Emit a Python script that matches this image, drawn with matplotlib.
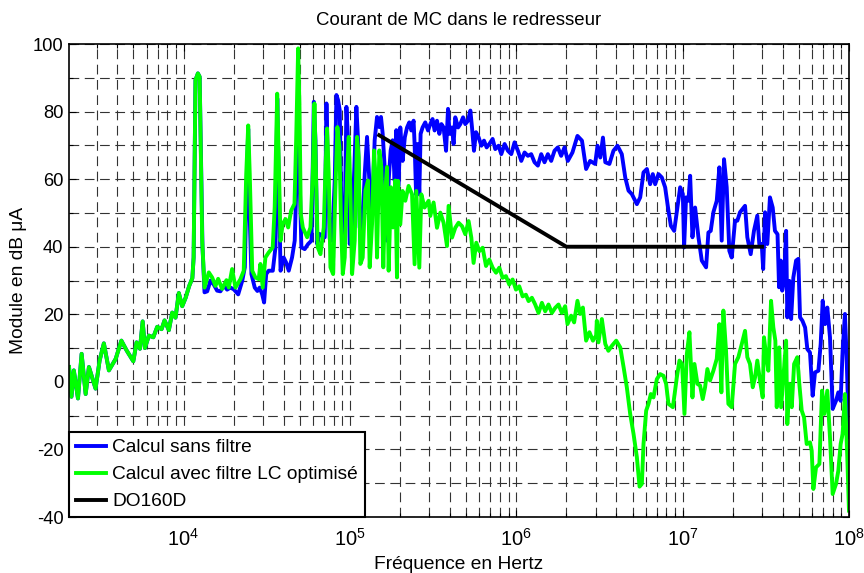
import numpy as np
import matplotlib
matplotlib.use("Agg")
import matplotlib.pyplot as plt
from matplotlib.ticker import FixedLocator, NullFormatter, MultipleLocator

plt.rcParams['font.family'] = ['Liberation Sans', 'DejaVu Sans']
plt.rcParams['mathtext.fontset'] = 'custom'
plt.rcParams['mathtext.rm'] = 'Liberation Sans'
plt.rcParams['mathtext.it'] = 'Liberation Sans:italic'
plt.rcParams['lines.scale_dashes'] = False
plt.rcParams['axes.unicode_minus'] = False

# Low-frequency part, identical for both computations (Hz, dB µA)
freq_common = [2050, 2120, 2190, 2320, 2440, 2580, 2700, 2960, 3130, 3320,
               3560, 3910, 4230, 4550, 4990, 5220, 5470, 5680, 5860, 6190,
               6580, 6950, 7380, 7690, 8160, 8550, 8950, 9370, 9820, 10300,
               10800, 11300, 11500, 11800, 12200, 12500]
level_common = [4.4, -4.4, 3.4, -4.9, 8.3, -3.6, 4.4, -2.0, 6.3, 11.4,
                3.4, 6.8, 12.2, 9.3, 6.1, 11.7, 9.8, 17.9, 10.0, 13.7,
                13.2, 16.3, 15.6, 18.2, 15.3, 20.5, 19.0, 26.3, 22.4, 24.9,
                28.3, 30.7, 36.8, 89.3, 91.3, 90.3]

# Computation without filter
freq_sans = [1.30e4, 1.337e4, 1.388e4, 1.452e4, 1.520e4, 1.592e4, 1.667e4, 1.746e4, 1.828e4, 1.914e4,
             2.004e4, 2.131e4, 2.253e4, 2.336e4, 2.382e4, 2.448e4, 2.49e4, 2.559e4, 2.68e4, 2.78e4,
             2.87e4, 2.97e4, 3.05e4, 3.14e4, 3.25e4, 3.44e4, 3.57e4, 3.66e4, 3.73e4, 3.83e4,
             4.00e4, 4.14e4, 4.29e4, 4.49e4, 4.66e4, 4.79e4, 4.89e4, 4.98e4, 5.11e4, 5.35e4,
             5.61e4, 5.88e4, 6.07e4, 6.21e4, 6.36e4, 6.56e4, 6.81e4, 7.06e4, 7.23e4, 7.40e4,
             7.57e4, 7.82e4, 8.11e4, 8.30e4, 8.49e4, 8.69e4, 8.85e4, 9.06e4, 9.31e4, 9.53e4,
             9.75e4, 9.98e4, 1.031e5, 1.064e5, 1.094e5, 1.120e5, 1.146e5, 1.184e5, 1.228e5, 1.268e5,
             1.309e5, 1.359e5, 1.409e5, 1.456e5, 1.503e5, 1.538e5, 1.574e5, 1.618e5, 1.671e5, 1.710e5,
             1.758e5, 1.807e5, 1.858e5, 1.901e5, 1.963e5, 2.009e5, 2.074e5, 2.139e5, 2.206e5, 2.275e5,
             2.339e5, 2.415e5, 2.449e5, 2.50e5, 2.553e5, 2.614e5, 2.661e5, 2.735e5, 2.838e5, 2.95e5,
             3.043e5, 3.14e5, 3.23e5, 3.339e5, 3.45e5, 3.55e5, 3.658e5, 3.785e5, 3.89e5, 3.975e5,
             4.11e5, 4.20e5, 4.30e5, 4.47e5, 4.61e5, 4.79e5, 4.94e5, 5.13e5, 5.30e5, 5.42e5,
             5.57e5, 5.73e5, 5.94e5, 6.17e5, 6.40e5, 6.64e5, 6.89e5, 7.21e5, 7.48e5, 7.83e5,
             8.13e5, 8.51e5, 8.91e5, 9.33e5, 9.77e5, 1.023e6, 1.072e6, 1.122e6, 1.175e6, 1.230e6,
             1.288e6, 1.349e6, 1.413e6, 1.479e6, 1.549e6, 1.622e6, 1.698e6, 1.778e6, 1.862e6, 1.950e6,
             2.042e6, 2.177e6, 2.333e6, 2.483e6, 2.630e6, 2.780e6, 2.98e6, 3.08e6, 3.20e6, 3.32e6,
             3.43e6, 3.63e6, 3.84e6, 4.06e6, 4.31e6, 4.52e6, 4.73e6, 4.95e6, 5.31e6, 5.56e6,
             5.82e6, 6.10e6, 6.38e6, 6.62e6, 6.84e6, 7.16e6, 7.50e6, 7.85e6, 8.22e6, 8.50e6,
             8.90e6, 9.31e6, 9.67e6, 1.003e7, 1.021e7, 1.049e7, 1.084e7, 1.110e7, 1.146e7, 1.189e7,
             1.245e7, 1.304e7, 1.384e7, 1.429e7, 1.476e7, 1.531e7, 1.604e7, 1.663e7, 1.718e7, 1.774e7,
             1.841e7, 1.909e7, 1.973e7, 2.066e7, 2.133e7, 2.213e7, 2.373e7, 2.449e7, 2.566e7, 2.685e7,
             2.812e7, 2.89e7, 2.99e7, 3.05e7, 3.13e7, 3.23e7, 3.35e7, 3.48e7, 3.59e7, 3.72e7,
             3.80e7, 3.89e7, 3.97e7, 4.07e7, 4.19e7, 4.26e7, 4.38e7, 4.49e7, 4.63e7, 4.81e7,
             4.96e7, 5.08e7, 5.25e7, 5.45e7, 5.62e7, 5.83e7, 6.05e7, 6.25e7, 6.55e7, 6.76e7,
             6.95e7, 7.18e7, 7.41e7, 7.69e7, 7.98e7, 8.36e7, 8.63e7, 8.91e7, 9.16e7, 9.46e7,
             9.68e7, 1.0e8]
level_sans = [40.0, 26.5, 26.8, 30.0, 28.8, 27.0, 26.8, 28.5, 27.3, 27.9,
              27.4, 25.9, 29.9, 33.9, 53.7, 74.9, 51.7, 31.9, 27.9, 26.9,
              27.9, 25.9, 23.5, 31.9, 32.9, 32.9, 39.8, 83.9, 61.6, 32.9,
              36.8, 35.3, 32.9, 36.8, 41.8, 61.6, 86.3, 61.6, 39.8, 39.3,
              40.8, 41.8, 82.9, 71.5, 40.8, 43.8, 43.3, 42.8, 82.4, 59.6,
              42.3, 41.8, 59.6, 84.9, 83.4, 80.4, 56.6, 39.8, 46.7, 81.4,
              71.5, 40.8, 45.7, 63.6, 81.4, 71.5, 45.7, 43.8, 61.6, 72.5,
              59.6, 49.7, 71.5, 78.4, 75.4, 78.4, 73.5, 63.6, 41.8, 59.6,
              68.5, 71.5, 59.6, 74.5, 58.0, 75.3, 65.4, 72.4, 75.3, 76.8,
              74.4, 77.3, 70.4, 55.5, 70.4, 55.5, 73.4, 75.3, 76.8, 74.4,
              76.3, 77.8, 74.4, 77.3, 73.4, 76.3, 75.3, 68.4, 80.8, 73.4,
              75.3, 70.4, 78.3, 75.3, 76.3, 78.3, 76.3, 77.3, 80.3, 75.3,
              68.4, 73.9, 72.4, 69.9, 71.4, 69.4, 70.4, 71.9, 68.9, 69.9,
              67.4, 70.4, 68.4, 67.4, 70.9, 68.4, 65.4, 67.9, 66.9, 67.4,
              65.0, 64.0, 67.4, 65.0, 67.4, 65.4, 68.4, 69.4, 66.9, 69.4,
              65.4, 67.9, 72.8, 71.4, 63.0, 65.4, 64.5, 69.9, 66.4, 72.3,
              65.0, 64.5, 68.4, 69.9, 67.4, 60.5, 56.6, 55.6, 52.6, 54.6,
              62.0, 63.0, 58.5, 61.5, 58.5, 61.5, 60.5, 57.6, 50.7, 46.2,
              44.7, 51.6, 57.6, 55.6, 39.8, 54.6, 53.6, 61.0, 42.8, 51.6,
              42.8, 35.9, 33.9, 44.2, 44.7, 50.2, 53.6, 63.5, 41.8, 65.9,
              57.6, 38.8, 36.8, 47.7, 47.7, 50.2, 52.1, 42.8, 37.8, 44.7,
              49.2, 40.8, 40.8, 33.4, 50.2, 40.8, 54.6, 51.6, 44.7, 43.7,
              28.0, 35.9, 27.0, 29.9, 44.7, 19.1, 29.9, 18.6, 30.9, 35.9,
              36.4, 19.1, 18.1, 16.1, 9.7, 8.7, -4.1, 2.8, 3.3, 11.2,
              24.0, 17.1, 22.0, 13.2, -8.0, -5.6, -3.1, -5.6, 9.2, 20.1,
              7.3, -16.4]

# Computation with optimised LC filter
freq_avec = [1.295e4, 1.337e4, 1.419e4, 1.486e4, 1.556e4, 1.615e4, 1.706e4, 1.811e4, 1.870e4, 1.959e4,
             2.051e4, 2.198e4, 2.301e4, 2.382e4, 2.448e4, 2.500e4, 2.588e4, 2.704e4, 2.831e4, 2.897e4,
             2.992e4, 3.105e4, 3.251e4, 3.436e4, 3.532e4, 3.656e4, 3.733e4, 3.828e4, 3.945e4, 4.102e4,
             4.256e4, 4.436e4, 4.645e4, 4.753e4, 4.886e4, 4.977e4, 5.070e4, 5.212e4, 5.534e4, 5.794e4,
             5.984e4, 6.124e4, 6.267e4, 6.412e4, 6.653e4, 6.966e4, 7.129e4, 7.296e4, 7.460e4, 7.640e4,
             7.930e4, 8.180e4, 8.410e4, 8.650e4, 8.850e4, 9.060e4, 9.310e4, 9.620e4, 9.840e4, 1.007e5,
             1.031e5, 1.069e5, 1.104e5, 1.130e5, 1.156e5, 1.194e5, 1.239e5, 1.285e5, 1.315e5, 1.359e5,
             1.397e5, 1.423e5, 1.456e5, 1.503e5, 1.545e5, 1.588e5, 1.633e5, 1.671e5, 1.710e5, 1.766e5,
             1.816e5, 1.875e5, 1.919e5, 1.946e5, 2.009e5, 2.074e5, 2.153e5, 2.254e5, 2.364e5, 2.449e5,
             2.507e5, 2.614e5, 2.688e5, 2.812e5, 2.973e5, 3.043e5, 3.185e5, 3.339e5, 3.497e5, 3.658e5,
             3.835e5, 3.920e5, 4.110e5, 4.300e5, 4.500e5, 4.720e5, 4.940e5, 5.170e5, 5.370e5, 5.540e5,
             5.750e5, 6.000e5, 6.280e5, 6.580e5, 6.890e5, 7.210e5, 7.560e5, 7.910e5, 8.280e5, 8.670e5,
             9.080e5, 9.510e5, 9.960e5, 1.042e6, 1.092e6, 1.143e6, 1.186e6, 1.242e6, 1.300e6, 1.361e6,
             1.426e6, 1.493e6, 1.563e6, 1.637e6, 1.714e6, 1.795e6, 1.880e6, 1.968e6, 2.032e6, 2.138e6,
             2.228e6, 2.333e6, 2.421e6, 2.515e6, 2.630e6, 2.754e6, 2.890e6, 3.020e6, 3.050e6, 3.120e6,
             3.270e6, 3.430e6, 3.580e6, 3.760e6, 3.990e6, 4.220e6, 4.420e6, 4.620e6, 4.840e6, 5.070e6,
             5.310e6, 5.510e6, 5.690e6, 5.820e6, 6.040e6, 6.240e6, 6.440e6, 6.680e6, 7.000e6, 7.330e6,
             7.670e6, 7.960e6, 8.220e6, 8.740e6, 9.230e6, 9.570e6, 9.930e6, 1.026e7, 1.060e7, 1.099e7,
             1.146e7, 1.178e7, 1.228e7, 1.274e7, 1.321e7, 1.365e7, 1.409e7, 1.462e7, 1.531e7, 1.604e7,
             1.663e7, 1.710e7, 1.758e7, 1.824e7, 1.884e7, 1.973e7, 2.066e7, 2.163e7, 2.268e7, 2.373e7,
             2.449e7, 2.541e7, 2.640e7, 2.725e7, 2.812e7, 2.918e7, 3.031e7, 3.085e7, 3.171e7, 3.275e7,
             3.401e7, 3.511e7, 3.610e7, 3.680e7, 3.810e7, 3.910e7, 4.030e7, 4.190e7, 4.260e7, 4.380e7,
             4.530e7, 4.680e7, 4.890e7, 5.030e7, 5.200e7, 5.370e7, 5.570e7, 5.830e7, 5.970e7, 6.110e7,
             6.340e7, 6.640e7, 6.890e7, 7.110e7, 7.410e7, 7.690e7, 7.980e7, 8.360e7, 8.630e7, 8.910e7,
             9.160e7, 9.460e7, 9.770e7, 1.0e8]
level_avec = [41.8, 27.9, 32.4, 30.9, 28.4, 30.5, 27.5, 30.1, 27.9, 33.4,
              27.9, 30.4, 32.9, 61.6, 75.9, 61.6, 32.9, 30.9, 30.4, 34.9,
              27.9, 36.8, 38.3, 39.8, 51.7, 85.3, 66.5, 41.8, 46.7, 48.2,
              45.7, 50.7, 52.7, 71.5, 98.7, 81.4, 49.7, 45.7, 42.8, 45.7,
              61.6, 82.4, 59.6, 39.8, 37.8, 45.7, 62.6, 75.0, 61.6, 33.9,
              31.9, 56.6, 75.4, 69.5, 46.7, 31.9, 36.8, 61.6, 72.5, 56.6,
              31.9, 41.8, 72.5, 66.5, 34.9, 36.8, 56.6, 59.6, 33.9, 46.7,
              68.5, 61.6, 36.8, 68.5, 63.6, 33.9, 56.6, 63.6, 32.9, 57.6,
              45.7, 59.6, 30.9, 59.5, 46.6, 56.5, 53.6, 58.0, 55.5, 34.8,
              56.5, 33.8, 55.5, 51.6, 53.6, 49.1, 53.1, 45.6, 50.1, 47.1,
              40.2, 52.1, 42.7, 45.6, 47.1, 46.1, 43.7, 47.6, 42.7, 35.2,
              41.2, 38.7, 39.7, 34.3, 36.2, 33.8, 32.3, 33.8, 30.8, 31.3,
              28.8, 30.3, 27.3, 28.3, 25.3, 25.8, 23.9, 24.9, 22.9, 20.4,
              23.4, 20.9, 22.9, 20.4, 21.9, 22.9, 20.4, 22.4, 17.1, 19.6,
              17.6, 24.0, 20.1, 22.0, 12.2, 14.7, 12.2, 13.7, 18.1, 11.7,
              18.6, 11.2, 9.2, 10.7, 12.2, 10.2, 4.3, -1.6, -9.5, -15.4,
              -22.3, -31.0, -30.2, -18.4, -8.5, -6.5, -3.6, -4.6, 0.8, 2.3,
              1.8, -0.6, -6.5, -7.5, 1.3, 6.3, 5.3, -9.5, 8.2, 14.7,
              -4.6, 5.3, -0.6, -1.1, -5.1, -1.6, 3.8, 0.4, 3.3, 6.8,
              17.1, -3.1, 21.1, 9.2, -6.5, -7.5, 5.3, 7.3, 11.2, 15.1,
              7.3, 5.3, -1.6, 1.3, 6.3, 0.4, -4.6, 13.2, 8.2, 3.3,
              24.0, 16.1, 12.2, -7.5, 10.2, -7.5, 1.3, 12.2, -12.5, -0.6,
              -7.5, 5.3, 7.3, -0.6, -8.5, -10.5, -18.4, -17.9, -20.4, -31.7,
              -25.3, -24.3, -2.6, -9.5, -2.6, -16.4, -33.2, -30.2, -26.3, -18.4,
              -15.4, -3.6, -22.3, -38.1]

# DO-160D limit
freq_do160 = [1.5e5, 2.0e6, 3.0e7]
level_do160 = [73.0, 40.0, 40.0]

labels = ["Calcul sans filtre", "Calcul avec filtre LC optimisé", "DO160D"]
x_ticks = [1e4, 1e5, 1e6, 1e7, 1e8]
x_tick_labels = [r"$\mathregular{10^{4}}$", r"$\mathregular{10^{5}}$", r"$\mathregular{10^{6}}$",
                 r"$\mathregular{10^{7}}$", r"$\mathregular{10^{8}}$"]

f_sans = np.concatenate([freq_common, freq_sans])
l_sans = np.concatenate([level_common, level_sans])
f_avec = np.concatenate([freq_common, freq_avec])
l_avec = np.concatenate([level_common, level_avec])

fig = plt.figure(figsize=(8.64, 5.73), dpi=100)
ax = fig.add_axes([0.0799, 0.0977, 0.9826 - 0.0799, 0.9232 - 0.0977])

lw = 2.8
ax.plot(f_sans, l_sans, color=(0, 0, 1), lw=lw, label=labels[0], solid_joinstyle='round')
ax.plot(f_avec, l_avec, color=(0, 1, 0), lw=lw, label=labels[1], solid_joinstyle='round')
ax.plot(freq_do160, level_do160, color='black', lw=lw, label=labels[2])

ax.set_xscale('log')
ax.set_xlim(2050, 1e8)
ax.set_ylim(-40, 100)

ax.xaxis.set_major_locator(FixedLocator(x_ticks))
ax.set_xticklabels(x_tick_labels, fontsize=14.5)
minor = [m * 10.0 ** e for e in range(3, 8) for m in range(2, 10)]
ax.xaxis.set_minor_locator(FixedLocator(minor))
ax.xaxis.set_minor_formatter(NullFormatter())
ax.yaxis.set_major_locator(MultipleLocator(20))
ax.yaxis.set_minor_locator(MultipleLocator(10))

ax.tick_params(which='both', direction='in', top=True, right=True,
               width=0.8, color='black')
ax.tick_params(axis='y', labelsize=13.2, pad=4)
ax.tick_params(which='major', length=5)
ax.tick_params(which='minor', length=3)
ax.tick_params(axis='x', pad=8)

ax.grid(True, which='both', color='0.2', lw=0.8, ls=(0, (7, 4)))
ax.set_axisbelow(True)
for s in ax.spines.values():
    s.set_linewidth(1.2)

ax.set_title("Courant de MC dans le redresseur", fontsize=13.4, pad=14)
ax.set_xlabel("Fréquence en Hertz", fontsize=13.8, labelpad=4)
ax.set_ylabel("Module en dB μA", fontsize=13.8, labelpad=4)

leg = ax.legend(loc='lower left', bbox_to_anchor=(0, 0), borderaxespad=0,
                fancybox=False, framealpha=1, edgecolor='black', fontsize=13.8,
                handlelength=1.6, handletextpad=0.3, labelspacing=0.5, borderpad=0.35)
leg.get_frame().set_linewidth(1.5)

fig.savefig("out.png", dpi=100)
